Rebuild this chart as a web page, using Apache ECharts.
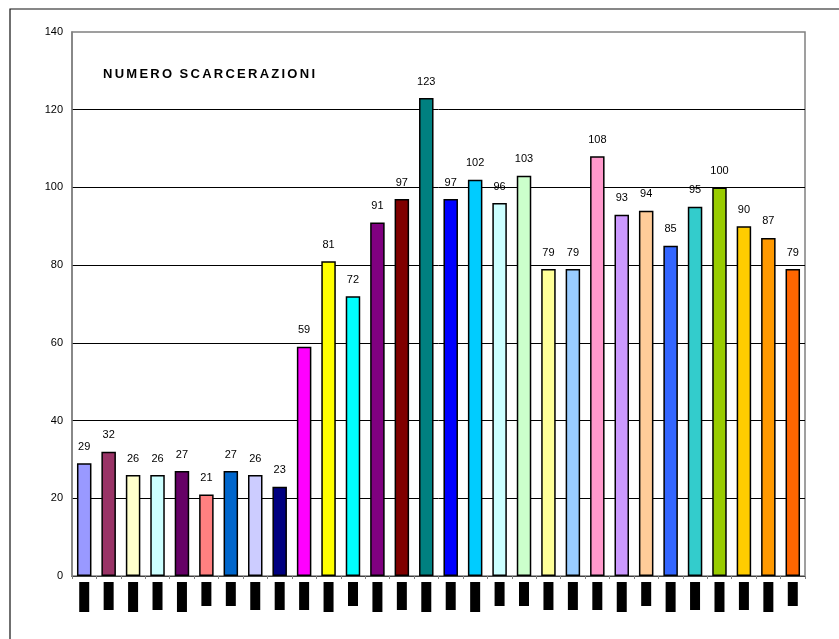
<!DOCTYPE html>
<html>
<head>
<meta charset="utf-8">
<script src="https://cdn.jsdelivr.net/npm/echarts@6/dist/echarts.min.js"></script>
<style>
html,body{margin:0;padding:0;background:#fff;}
#chart{width:839px;height:639px;}
</style>
</head>
<body>
<div id="chart"></div>
<script>
var titleText = 'NUMERO SCARCERAZIONI';
var categories = ['aaaaa','aaaa','aaaaa','aaaa','aaaaa','aaa','aaa','aaaa','aaaa','aaaa',
                  'aaaaa','aaa','aaaaa','aaaa','aaaaa','aaaa','aaaaa','aaa','aaa','aaaa',
                  'aaaa','aaaa','aaaaa','aaa','aaaaa','aaaa','aaaaa','aaaa','aaaaa','aaa'];
var values = [29,32,26,26,27,21,27,26,23,59,81,72,91,97,123,97,102,96,103,79,79,108,93,94,85,95,100,90,87,79];
var barColors = ['#9999FF','#993366','#FFFFCC','#CCFFFF','#660066','#FF8080','#0066CC','#CCCCFF','#000080','#FF00FF',
                 '#FFFF00','#00FFFF','#800080','#800000','#008080','#0000FF','#00CCFF','#CCFFFF','#CCFFCC','#FFFF99',
                 '#99CCFF','#FF99CC','#CC99FF','#FFCC99','#3366FF','#33CCCC','#99CC00','#FFCC00','#FF9900','#FF6600'];
var yTicks = [0,20,40,60,80,100,120,140];

var chart = echarts.init(document.getElementById('chart'), null, {renderer:'canvas'});

// title letters with spacing
var font = 'bold 13px "Liberation Sans", Arial, sans-serif';
var cv = document.createElement('canvas').getContext('2d');
cv.font = font;
var startX = 103, endX = 315, spaceW = 3;
var letters = titleText.split('');
var sumW = 0, nGaps = 0;
letters.forEach(function(ch){ if (ch === ' ') sumW += spaceW; else sumW += cv.measureText(ch).width; });
nGaps = letters.length - 1;
var sp = (endX - startX - sumW) / nGaps;
var titleEls = [];
var cx = startX;
letters.forEach(function(ch){
  var w = ch === ' ' ? spaceW : cv.measureText(ch).width;
  if (ch !== ' ') {
    titleEls.push({type:'text', x: cx, y: 74, style:{text: ch, font: font, fill:'#000', textVerticalAlign:'middle', textAlign:'left'}});
  }
  cx += w + sp;
});

chart.setOption({
  animation: false,
  backgroundColor: '#fff',
  graphic: [
    {type:'rect', shape:{x:10, y:9, width:900, height:700}, style:{fill:'none', stroke:'#111', lineWidth:1.2}, z:-1}
  ].concat(titleEls),
  grid: {left:72, right:34, top:32, bottom:63, show:true, borderColor:'#808080', borderWidth:1.5, backgroundColor:'#fff'},
  xAxis: {
    type:'category',
    data: categories,
    axisLine:{show:true, lineStyle:{color:'#404040', width:1}},
    axisTick:{show:true, alignWithLabel:false, length:3, lineStyle:{color:'#808080'}},
    axisLabel:{
      interval:0, rotate:90, margin:6,
      formatter: function(v){ return '{k' + v.length + '|' + v + '}'; },
      rich: {
        k3:{width:24, height:10, lineHeight:10, backgroundColor:'#000', color:'#000', fontSize:8},
        k4:{width:28, height:10, lineHeight:10, backgroundColor:'#000', color:'#000', fontSize:8},
        k5:{width:30, height:10, lineHeight:10, backgroundColor:'#000', color:'#000', fontSize:8}
      }
    }
  },
  yAxis: {
    type:'value', min:0, max:140, interval:20,
    axisLine:{show:true, lineStyle:{color:'#808080', width:1.5}},
    axisTick:{show:false},
    axisLabel:{color:'#000', fontSize:11, fontFamily:'"Liberation Sans", Arial, sans-serif', margin:9,
      formatter:function(v){ return yTicks.indexOf(v) >= 0 ? String(v) : ''; }},
    splitLine:{show:true, showMaxLine:false, showMinLine:false, lineStyle:{color:'#000', width:1}}
  },
  series: [{
    type:'bar',
    data: values.map(function(v,i){ return {value:v, itemStyle:{color:barColors[i]}}; }),
    barWidth: 14.5,
    itemStyle:{borderColor:'#000', borderWidth:1.5},
    label:{show:true, position:'top', distance:11, color:'#000', fontSize:11, fontFamily:'"Liberation Sans", Arial, sans-serif'}
  }]
});
</script>
</body>
</html>
